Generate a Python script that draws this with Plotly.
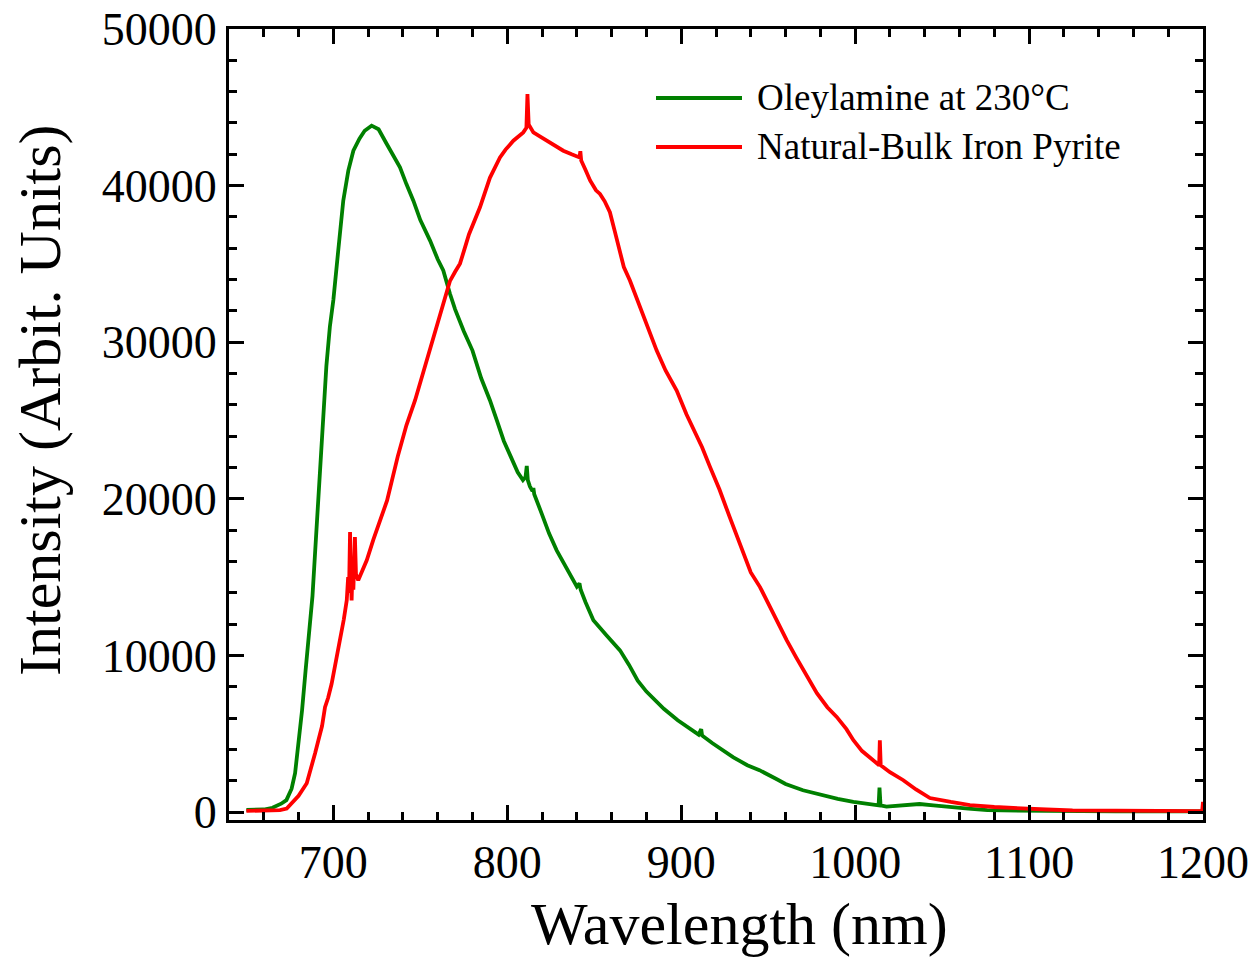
import plotly.graph_objects as go

# ---------------- data ----------------
green_x = [650, 660, 665, 670, 673, 676, 678, 680, 682, 684, 686, 688, 690, 692, 694, 696, 698, 700,
           702.8, 705.7, 708.6, 711.5, 715, 718, 722, 726, 730.7, 734, 738.3, 742, 746, 750, 755.6, 760,
           763.2, 767, 770, 775, 780, 785, 790, 794, 798, 802, 806, 809, 810.5, 811.2, 811.8, 813, 814.5,
           815, 815.5, 820, 824, 828.4, 835, 840, 841.5, 842.2, 845, 849.5, 857, 864.8, 870, 875, 880, 885,
           890, 898, 905, 910, 911.5, 912, 918, 923.5, 930, 938, 945, 955, 960, 970, 980, 990, 999, 1008,
           1013.5, 1014, 1014.6, 1018, 1025, 1030, 1037, 1045, 1056, 1065, 1076, 1090, 1110, 1150, 1200]
green_y = [150, 170, 280, 540, 770, 1500, 2490, 4300, 6500, 9000, 11500, 13800, 17500, 21500, 25500, 28500, 31000, 32700,
           35850, 39040, 40960, 42230, 43000, 43500, 43830, 43600, 42660, 42000, 41170, 40100, 39040, 37800, 36490, 35300,
           34580, 33110, 32100, 30700, 29470, 27700, 26300, 25010, 23700, 22700, 21700, 21200, 21400, 22100, 21200, 20800, 20500,
           20700, 20300, 19000, 17800, 16715, 15400, 14400, 14600, 14200, 13400, 12250, 11300, 10330, 9400, 8400, 7700, 7150,
           6600, 5870, 5300, 4950, 5300, 4900, 4400, 3955, 3500, 3000, 2680, 2100, 1800, 1400, 1100, 850, 660, 500,
           430, 1575, 430, 350, 430, 500, 520, 430, 300, 220, 130, 100, 80, 60, 50]

red_x = [650, 660, 669.3, 673.2, 677, 680, 684.7, 687, 689.5, 691.4, 693.5, 695.2, 697, 699, 701, 702.8, 704.5, 706,
         707.7, 708.5, 709, 709.6, 710.1, 710.5, 711, 711.5, 712.4, 713, 714.3, 716, 719.2, 723, 727, 730.9, 737,
         742, 747, 751, 755.6, 760, 764, 767, 770, 772.8, 775, 778, 784.3, 790, 795.8, 799, 803.5, 806, 809.2,
         811, 811.6, 812.3, 815, 818, 822.7, 827, 832.2, 837, 841.5, 842, 842.5, 845, 847.6, 851, 853.3, 856, 859,
         862, 864.8, 867, 870.5, 876.3, 881, 885.9, 891, 897.4, 903, 908, 910.8, 912, 916.6, 922, 928, 935.7, 940,
         945.3, 950, 955, 960.7, 966, 972, 978, 984, 989.4, 995, 999, 1004, 1009, 1013.8, 1014.2, 1014.7, 1020,
         1027.7, 1035, 1043, 1055, 1066, 1080, 1095, 1110, 1125, 1150, 1175, 1199.5, 1200]
red_y = [80, 90, 130, 230, 660, 1050, 1850, 2700, 3760, 4590, 5500, 6700, 7300, 8200, 9300, 10330, 11500, 12300,
         13520, 15000, 14000, 17880, 15000, 13520, 15500, 14200, 17560, 15200, 14800, 15200, 16080, 17400, 18630, 19900, 22700,
         24700, 26300, 27800, 29470, 31200, 32800, 33900, 34500, 35020, 35800, 36900, 38620, 40500, 41800, 42300, 42870, 43100, 43400,
         43700, 45850, 43900, 43400, 43200, 42870, 42600, 42230, 42000, 41800, 42200, 41600, 41000, 40330, 39700, 39470, 39000, 38300,
         37000, 35850, 34800, 33940, 32240, 30800, 29470, 28200, 26920, 25400, 24200, 23520, 23300, 22030, 20600, 18800, 16500, 15300,
         14370, 13300, 12200, 10970, 9900, 8700, 7600, 6700, 6080, 5300, 4590, 3900, 3400, 3000, 4590, 3000, 2550,
         2040, 1450, 900, 650, 450, 330, 235, 170, 120, 90, 80, 70, 660]

series_names = ["Oleylamine at 230°C", "Natural-Bulk Iron Pyrite"]
series_colors = ["#008000", "#ff0000"]
x_ticks = [700, 800, 900, 1000, 1100, 1200]
y_ticks = [0, 10000, 20000, 30000, 40000, 50000]

FONT = "Liberation Serif"

fig = go.Figure()
fig.add_trace(go.Scatter(x=green_x, y=green_y, mode="lines", name=series_names[0],
                         line=dict(color=series_colors[0], width=3.8), showlegend=False))
fig.add_trace(go.Scatter(x=red_x, y=red_y, mode="lines", name=series_names[1],
                         line=dict(color=series_colors[1], width=3.8), showlegend=False))

axis_common = dict(
    showline=True, linecolor="black", linewidth=3, mirror="ticks",
    ticks="inside", ticklen=15, tickwidth=2.5, tickcolor="black",
    showgrid=False, zeroline=False, automargin=False,
    tickfont=dict(family=FONT, size=46, color="black"),
)
fig.update_xaxes(range=[640, 1200], tickvals=x_ticks, ticktext=[str(v) for v in x_ticks],
                 minor=dict(ticks="inside", ticklen=8, tickwidth=2.5, tickcolor="black", dtick=20, tick0=640),
                 **axis_common)
fig.update_yaxes(range=[-500, 50000], tickvals=y_ticks, ticktext=[str(v) for v in y_ticks],
                 minor=dict(ticks="inside", ticklen=8, tickwidth=2.5, tickcolor="black", dtick=2000, tick0=0),
                 **axis_common)

# manual legend
L, R, T, B = 229, 1203, 29, 820
W, H = R - L, B - T
def px(xp):
    return (xp - L) / W
def py(yp):
    return (B - yp) / H

legend_rows = [98, 147]
for name, col, yr in zip(series_names, series_colors, legend_rows):
    fig.add_shape(type="line", xref="paper", yref="paper", x0=px(656), x1=px(742), y0=py(yr), y1=py(yr),
                  line=dict(color=col, width=3.8))
    fig.add_annotation(xref="paper", yref="paper", x=px(755), y=py(yr), text=name, showarrow=False,
                       xanchor="left", yanchor="middle", font=dict(family=FONT, size=37, color="black"))

# axis titles
fig.add_annotation(xref="paper", yref="paper", x=px(739), y=py(924), text="Wavelength (nm)", showarrow=False,
                   xanchor="center", yanchor="middle", font=dict(family=FONT, size=60, color="black"))
fig.add_annotation(xref="paper", yref="paper", x=px(40), y=py(400), text="Intensity (Arbit. Units)", showarrow=False,
                   textangle=-90, xanchor="center", yanchor="middle", font=dict(family=FONT, size=60, color="black"))

fig.update_layout(
    width=1260, height=961,
    margin=dict(l=L, r=1260 - R, t=T, b=961 - B, autoexpand=False),
    paper_bgcolor="white", plot_bgcolor="white",
    showlegend=False,
)

fig.write_html("out.html")
